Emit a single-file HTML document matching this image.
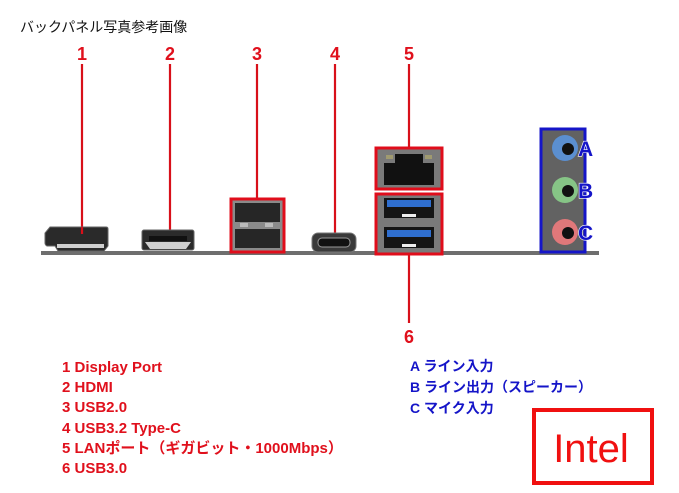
<!DOCTYPE html>
<html><head><meta charset="utf-8"><style>
html,body{margin:0;padding:0;background:#fff;}
svg{display:block;}
</style></head><body>
<svg width="679" height="493" viewBox="0 0 679 493" xmlns="http://www.w3.org/2000/svg">
<rect width="679" height="493" fill="#fff"/>
<text x="20" y="32" font-family="'Liberation Sans','Noto Sans CJK JP',sans-serif" font-size="14" fill="#111">バックパネル写真参考画像</text>

<!-- base bar -->
<rect x="41" y="251" width="558" height="4" fill="#6e6e6e"/>

<!-- number labels -->
<g font-family="'Liberation Sans',sans-serif" font-size="18" font-weight="bold" fill="#e0101c" text-anchor="middle">
<text x="82" y="60">1</text>
<text x="170" y="60">2</text>
<text x="257" y="60">3</text>
<text x="335" y="60">4</text>
<text x="409" y="60">5</text>
<text x="409" y="343">6</text>
</g>
<g stroke="#d8101a" stroke-width="2.2">
<line x1="82" y1="64" x2="82" y2="234"/>
<line x1="170" y1="64" x2="170" y2="236"/>
<line x1="257" y1="64" x2="257" y2="198"/>
<line x1="335" y1="64" x2="335" y2="242"/>
<line x1="409" y1="64" x2="409" y2="147"/>
<line x1="409" y1="254" x2="409" y2="323"/>
</g>

<!-- DisplayPort -->
<path d="M50 227 L106 227 Q108 227 108 229 L108 246 L104 251 L58 251 L55 246 L47 246 Q45 245 45 243 L45 233 Z" fill="#2a2a2a" stroke="#666" stroke-width="1"/>
<rect x="57" y="244" width="47" height="4" fill="#cfcfcf"/>
<line x1="82" y1="227" x2="82" y2="234" stroke="#d8101a" stroke-width="2.2"/>

<!-- HDMI -->
<rect x="142" y="230" width="52" height="20" rx="2" fill="#2b2b2b" stroke="#666"/>
<path d="M145 242 L191 242 L186 249 L150 249 Z" fill="#d0d0d0"/>
<rect x="149" y="236" width="38" height="5" fill="#111"/>

<!-- USB 2.0 -->
<rect x="232" y="200" width="51" height="51" fill="#8a8a8a"/>
<rect x="235" y="203" width="45" height="19" fill="#262626"/>
<rect x="235" y="229" width="45" height="19" fill="#262626"/>
<rect x="240" y="223" width="8" height="4" fill="#bbb"/>
<rect x="265" y="223" width="8" height="4" fill="#bbb"/>
<rect x="231" y="199" width="53" height="53" fill="none" stroke="#e00d1b" stroke-width="3"/>

<!-- USB-C -->
<rect x="312" y="233" width="44" height="19" rx="6" fill="#3a3a3a" stroke="#777"/>
<rect x="318" y="238" width="32" height="9" rx="4" fill="#111" stroke="#999" stroke-width="1"/>

<!-- LAN -->
<rect x="377" y="149" width="64" height="39" fill="#7a7a7a"/>
<path d="M384 163 L395 163 L395 154 L423 154 L423 163 L434 163 L434 185 L384 185 Z" fill="#111"/>
<rect x="386" y="155" width="7" height="4" fill="#a09a70"/>
<rect x="425" y="155" width="7" height="4" fill="#a09a70"/>
<rect x="376" y="148" width="66" height="41" fill="none" stroke="#e00d1b" stroke-width="3"/>

<!-- USB 3.0 -->
<rect x="377" y="195" width="64" height="58" fill="#7a7a7a"/>
<rect x="384" y="198" width="50" height="20" fill="#151515"/>
<rect x="387" y="200" width="44" height="7" fill="#2f6fd0"/>
<rect x="402" y="214" width="14" height="3" fill="#eee"/>
<rect x="384" y="227" width="50" height="21" fill="#151515"/>
<rect x="387" y="230" width="44" height="7" fill="#2f6fd0"/>
<rect x="402" y="244" width="14" height="3" fill="#eee"/>
<rect x="376" y="194" width="66" height="60" fill="none" stroke="#e00d1b" stroke-width="3"/>

<!-- audio -->
<rect x="541" y="129" width="44" height="123" fill="#626262"/>
<circle cx="565" cy="148" r="13" fill="#5b8fd0"/>
<circle cx="568" cy="149" r="6" fill="#111"/>
<circle cx="565" cy="190" r="13" fill="#86c486"/>
<circle cx="568" cy="191" r="6" fill="#111"/>
<circle cx="565" cy="232" r="13" fill="#e0787a"/>
<circle cx="568" cy="233" r="6" fill="#111"/>
<rect x="541" y="129" width="44" height="123" fill="none" stroke="#1515c8" stroke-width="3"/>
<g font-family="'Liberation Sans',sans-serif" font-size="21" font-weight="bold" fill="#1515c8" stroke="#fff" stroke-width="1.2" paint-order="stroke">
<text x="578" y="156">A</text>
<text x="578" y="198">B</text>
<text x="578" y="240">C</text>
</g>

<!-- left legend -->
<g font-family="'Liberation Sans','Noto Sans CJK JP',sans-serif" font-size="15" font-weight="bold" fill="#e0101c">
<text x="62" y="372">1 Display Port</text>
<text x="62" y="392">2 HDMI</text>
<text x="62" y="412">3 USB2.0</text>
<text x="62" y="433">4 USB3.2 Type-C</text>
<text x="62" y="453">5 LANポート（ギガビット・1000Mbps）</text>
<text x="62" y="473">6 USB3.0</text>
</g>

<!-- right legend -->
<g font-family="'Liberation Sans','Noto Sans CJK JP',sans-serif" font-size="14" font-weight="bold" fill="#1414c8">
<text x="410" y="371">A ライン入力</text>
<text x="410" y="392">B ライン出力（スピーカー）</text>
<text x="410" y="413">C マイク入力</text>
</g>

<!-- Intel box -->
<rect x="534" y="410" width="118" height="73" fill="none" stroke="#f01010" stroke-width="4"/>
<text x="591" y="462" text-anchor="middle" font-family="'Liberation Sans',sans-serif" font-size="40" fill="#f01010">Intel</text>
</svg>
</body></html>
